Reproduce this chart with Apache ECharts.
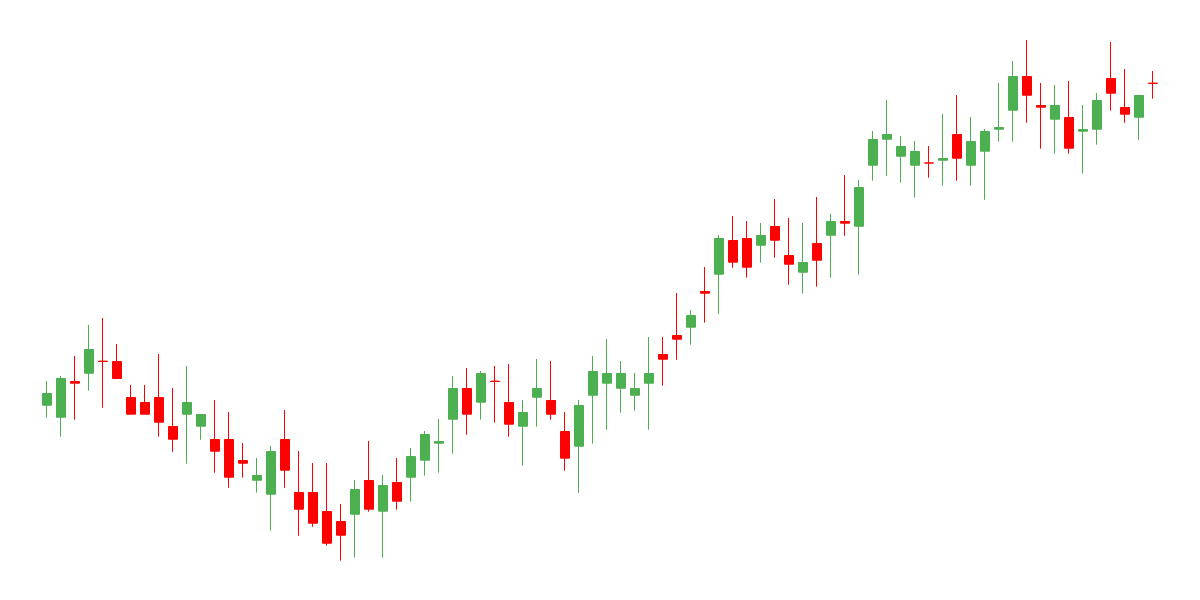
<!DOCTYPE html>
<html>
<head>
<meta charset="utf-8">
<script src="https://cdn.jsdelivr.net/npm/echarts@6/dist/echarts.min.js"></script>
<style>html,body{margin:0;padding:0;background:#fff;}#chart{width:1200px;height:600px;}</style>
</head>
<body>
<div id="chart"></div>
<script>
// Sessions (no labels shown on the chart)
const categories = Array.from({length: 80}, (_, i) => 'D' + (i + 1));
const openValues = [194.8,182.8,218.5,226.8,238.8,238.5,202.5,197.5,202.5,173.5,
  185.8,173.8,160.5,160.5,139.5,119.8,105.8,160.5,107.5,107.5,
  88.5,78.5,85.8,119.5,88.8,117.5,122.8,139.8,156.8,180.8,
  211.5,197.8,218.8,197.5,173.8,202.8,199.5,168.5,153.8,204.8,
  216.8,211.8,204.8,216.8,245.5,264.5,272.8,308.5,325.8,359.5,
  361.5,354.8,373.5,344.5,327.8,356.5,364.8,378.5,373.8,434.8,
  460.8,443.8,434.8,437.1,439.8,465.5,434.8,448.8,470.8,489.8,
  523.5,494.5,480.8,482.5,468.8,470.8,521.5,492.5,482.8,516.8];
const closeValues = [206.5,221.5,216.8,250.5,238.6,221.5,185.8,185.8,177.8,160.8,
  197.5,185.5,148.8,122.8,136.8,124.5,148.5,129.8,90.8,76.8,
  56.8,64.8,110.5,90.8,114.5,98.8,143.5,165.5,158.5,211.5,
  185.8,226.5,218.6,175.8,187.5,211.5,185.8,141.8,194.5,228.5,
  226.5,226.5,211.5,226.5,240.8,260.8,284.5,306.8,361.5,337.8,
  332.8,364.5,359.8,335.8,337.5,339.8,378.5,376.8,412.5,460.5,
  465.5,453.5,448.5,436.9,441.5,441.8,458.5,468.5,472.5,523.5,
  504.8,492.8,494.5,451.8,470.5,499.5,506.8,485.8,504.5,516.6];
const lowValues = [182.3,163.3,180.3,209.3,192.3,221.5,185.8,185.8,163.3,148.3,
  136.3,160.3,127.3,112.3,122.3,107.3,69.3,112.3,64.3,73.3,
  54.3,39.3,42.3,88.3,42.3,90.3,98.3,124.3,127.3,146.3,
  165.3,180.3,177.3,163.3,134.3,173.3,180.3,129.3,107.3,156.3,
  170.3,187.3,189.3,170.3,214.3,240.3,255.3,277.3,286.3,332.3,
  322.3,337.3,342.3,315.3,306.3,313.3,322.3,364.3,325.3,419.3,
  424.3,417.3,402.3,422.3,414.3,419.3,414.3,400.3,458.3,458.3,
  477.3,451.3,446.3,446.3,426.3,455.3,489.3,477.3,460.3,501.3];
const highValues = [219,224,244,275,282,256,215,215,246,212,
  234,185.5,200,188,157,142,154,190,149,137,
  137,96,120,159,125,142,152,169,181,224,
  232,229,234,236,200,241,239,188,200,244,
  261,239,227,263,263,307,290,333,365,384,
  379,377,401,382,377,403,386,425,420,469,
  500,464,459,454,486,505,483,471,517,539,
  560,517,515,519,495,507,558,531,504.5,529];

const ohlc = categories.map((_, i) => [openValues[i], closeValues[i], lowValues[i], highValues[i]]);

const chart = echarts.init(document.getElementById('chart'), null, {renderer: 'canvas'});
chart.setOption({
  animation: false,
  backgroundColor: '#ffffff',
  grid: {left: 40, right: 40, top: 0, bottom: 0},
  xAxis: {
    type: 'category', data: categories, boundaryGap: true, show: false
  },
  yAxis: {
    type: 'value', min: 0, max: 600, show: false, splitLine: {show: false}
  },
  series: [{
    type: 'candlestick',
    data: ohlc,
    barWidth: 10,
    itemStyle: {
      color: '#4caf50', color0: '#ff0000',
      borderColor: '#4caf50', borderColor0: '#ff0000',
      borderWidth: 1
    }
  }]
});
</script>
</body>
</html>
